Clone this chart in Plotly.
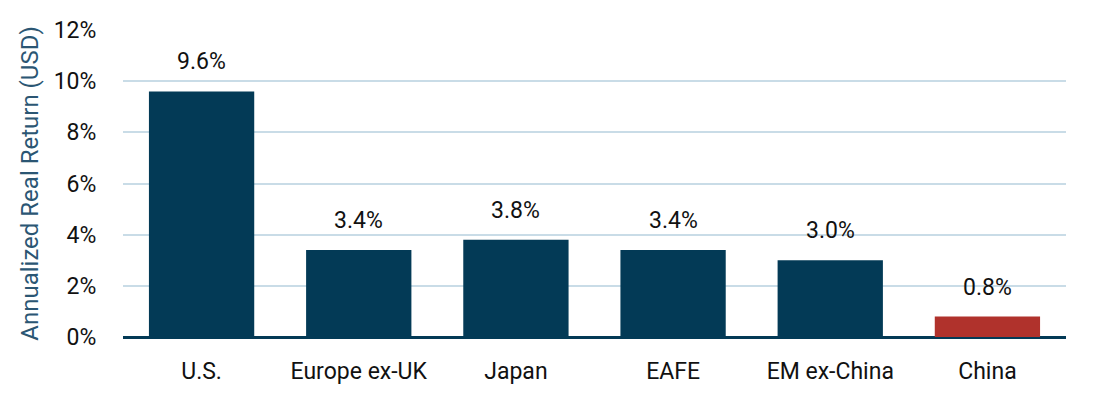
import plotly.graph_objects as go

categories = ["U.S.", "Europe ex-UK", "Japan", "EAFE", "EM ex-China", "China"]
values = [9.6, 3.4, 3.8, 3.4, 3.0, 0.8]
labels = ["9.6%", "3.4%", "3.8%", "3.4%", "3.0%", "0.8%"]
y_ticks = [0, 2, 4, 6, 8, 10, 12]
y_tick_labels = ["0%", "2%", "4%", "6%", "8%", "10%", "12%"]

NAVY = "#033a56"
RED = "#b0322c"
colors = [RED if c == "China" else NAVY for c in categories]
FONT = "Roboto"

fig = go.Figure()
fig.add_trace(go.Bar(
    x=categories, y=values,
    marker=dict(color=colors, line=dict(width=0)),
    hoverinfo="skip",
))

for c, v, t in zip(categories, values, labels):
    fig.add_annotation(x=c, y=v, text=t, showarrow=False, yanchor="bottom",
                       yshift=14, font=dict(family=FONT, size=23, color="#111111"))

fig.update_layout(
    width=1086, height=381,
    margin=dict(l=115, r=28, t=22, b=52, autoexpand=False),
    paper_bgcolor="white", plot_bgcolor="white",
    bargap=0.33,
    showlegend=False,
    font=dict(family=FONT, size=23, color="#111111"),
)
fig.update_xaxes(
    showgrid=False,
    showline=False,
    ticks="outside", ticklen=13, tickcolor="rgba(0,0,0,0)",
    tickfont=dict(family=FONT, size=23, color="#111111"),
    automargin=False,
)
fig.update_yaxes(
    range=[0, 12],
    tickvals=y_ticks, ticktext=y_tick_labels,
    showgrid=True, gridcolor="#c9dce7", gridwidth=2,
    zeroline=True, zerolinecolor=NAVY, zerolinewidth=3,
    ticks="outside", ticklen=21, tickcolor="rgba(0,0,0,0)",
    tickfont=dict(family=FONT, size=23, color="#111111"),
    title=dict(text="Annualized Real Return (USD)", font=dict(family=FONT, size=24, color="#2b5673"), standoff=8),
    automargin=False,
)

fig.write_html("out.html")
